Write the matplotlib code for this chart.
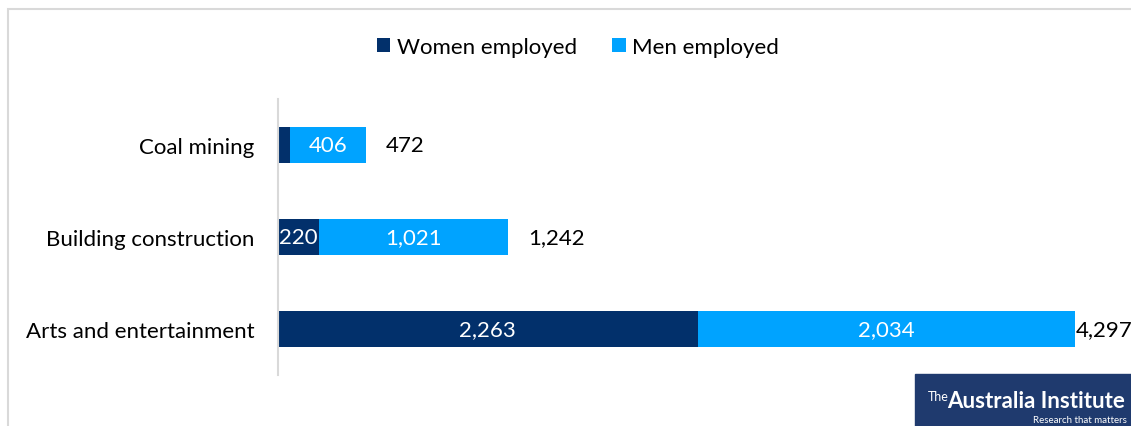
import matplotlib.pyplot as plt
from matplotlib.patches import Rectangle

categories = ['Arts and entertainment', 'Building construction', 'Coal mining']
women = [2263, 220, 66]
men = [2034, 1021, 406]
totals = [4297, 1242, 472]

women_lbl = ['2,263', '220', '']
men_lbl = ['2,034', '1,021', '406']
total_lbl = ['4,297', '1,242', '472']

navy = '#02306B'
blue = '#00A3FF'
grey = '#D9D9D9'

plt.rcParams['font.family'] = ['Lato', 'DejaVu Sans']

fig = plt.figure(figsize=(11.31, 4.27), dpi=100)
ax = fig.add_axes([278 / 1131, 51 / 427, 853 / 1131, 276 / 427])

y = range(len(categories))
b1 = ax.barh(y, women, height=0.39, color=navy, label='Women employed')
b2 = ax.barh(y, men, left=women, height=0.39, color=blue, label='Men employed')

for i in y:
    if women_lbl[i]:
        ax.text(women[i] / 2, i, women_lbl[i], color='white', fontsize=16,
                ha='center', va='center')
    ax.text(women[i] + men[i] / 2, i, men_lbl[i], color='white', fontsize=16,
            ha='center', va='center')

# total labels sit just past the end of each bar
pads = [1, 20, 20]
for i in y:
    ax.annotate(total_lbl[i], (totals[i], i), xytext=(pads[i] * 0.72, 0),
                textcoords='offset points', ha='left', va='center',
                fontsize=16, color='black', annotation_clip=False)

ax.set_xlim(0, 853 / 797 * 4297)
ax.set_ylim(-0.5, 2.5)
ax.set_yticks(list(y))
ax.set_yticklabels(categories, fontsize=16)
ax.tick_params(axis='y', length=0, pad=17)
ax.set_xticks([])
for s in ['top', 'right', 'bottom']:
    ax.spines[s].set_visible(False)
ax.spines['left'].set_color(grey)
ax.spines['left'].set_linewidth(1.5)

fig.legend(handles=[b1, b2], loc='center', bbox_to_anchor=(578 / 1131, 1 - 48 / 427),
           ncol=2, frameon=False, fontsize=16, handlelength=0.6, handleheight=0.6,
           handletextpad=0.3, columnspacing=1.6)

# outer chart border
fig.add_artist(Rectangle((8 / 1131, -0.1), 1.2, 1.1 - 10 / 427, fill=False,
                         edgecolor=grey, lw=1.5, transform=fig.transFigure))

# logo box
fig.add_artist(Rectangle((915 / 1131, 0), 0.3, 52 / 427, color='#1F3A6E',
                         transform=fig.transFigure))
fig.text(928 / 1131, 1 - 397 / 427, 'The', color='white', fontsize=9,
         va='center', ha='left')
fig.text(947 / 1131, 1 - 402 / 427, 'Australia Institute', color='white', fontsize=16,
         fontweight='bold', va='center', ha='left')
fig.text(1127 / 1131, 1 - 421 / 427, 'Research that matters', color='white', fontsize=7,
         va='center', ha='right')

fig.savefig('out.png', dpi=100)
